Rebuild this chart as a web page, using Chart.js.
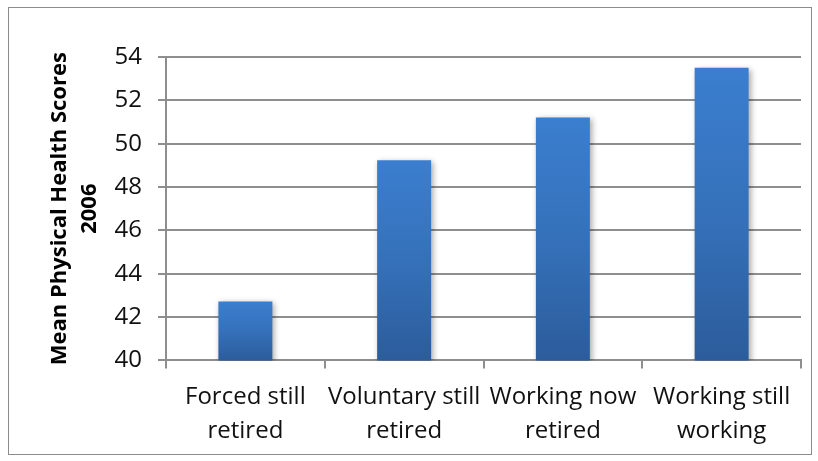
<!DOCTYPE html>
<html>
<head>
<meta charset="utf-8">
<script src="https://cdn.jsdelivr.net/npm/chart.js@4"></script>
<style>
  html, body { margin: 0; padding: 0; background: #fff; }
  #wrap { width: 818px; height: 461px; }
</style>
</head>
<body>
<div id="wrap"><canvas id="healthChart" width="818" height="461"></canvas></div>
<script>
// Mean physical health scores (2006) by retirement group
const groups = [
    ['Forced still', 'retired'],
    ['Voluntary still', 'retired'],
    ['Working now', 'retired'],
    ['Working still', 'working']
];
const meanScores = [42.72, 49.24, 51.21, 53.5];
const yTitle = ['Mean Physical Health Scores', '2006'];

const FONT = '"Open Sans", Lato, sans-serif';

// outer frame around the whole chart
const framePlugin = {
    id: 'frame',
    beforeDraw(chart) {
        const ctx = chart.ctx;
        ctx.save();
        ctx.fillStyle = '#fff';
        ctx.fillRect(0, 0, chart.width, chart.height);
        ctx.strokeStyle = '#8c8c8c';
        ctx.lineWidth = 1;
        ctx.strokeRect(8.5, 7.5, 803, 447);
        ctx.restore();
    }
};

// soft drop shadow under the bars
const shadowPlugin = {
    id: 'barShadow',
    beforeDatasetDraw(chart) {
        const ctx = chart.ctx;
        ctx.save();
        ctx.shadowColor = 'rgba(0, 0, 0, 0.35)';
        ctx.shadowBlur = 6;
        ctx.shadowOffsetX = 2;
        ctx.shadowOffsetY = 2;
    },
    afterDatasetDraw(chart) {
        chart.ctx.restore();
    }
};

// vertical gradient per bar, lighter at the top
function barGradient(context) {
    const chart = context.chart;
    const yScale = chart.scales.y;
    if (!yScale || !chart.chartArea) return '#3a7dcc';
    const v = context.raw;
    const top = yScale.getPixelForValue(v);
    const bottom = yScale.getPixelForValue(yScale.min);
    const g = chart.ctx.createLinearGradient(0, top, 0, bottom);
    g.addColorStop(0, '#3b7ecf');
    g.addColorStop(0.5, '#3571ba');
    g.addColorStop(1, '#2c5c9b');
    return g;
}

new Chart(document.getElementById('healthChart').getContext('2d'), {
    type: 'bar',
    data: {
        labels: groups,
        datasets: [{
            data: meanScores,
            backgroundColor: barGradient,
            borderWidth: 0,
            categoryPercentage: 1,
            barPercentage: 0.34
        }]
    },
    options: {
        responsive: false,
        animation: false,
        layout: { padding: { top: 57, right: 17, bottom: 1, left: 45 } },
        plugins: {
            legend: { display: false },
            tooltip: { enabled: false }
        },
        scales: {
            x: {
                offset: true,
                grid: {
                    offset: true,
                    drawOnChartArea: false,
                    drawTicks: true,
                    tickLength: 8,
                    color: '#8e8e8e',
                    lineWidth: 2
                },
                border: { color: '#8e8e8e', width: 2 },
                ticks: {
                    color: '#111',
                    padding: 11,
                    autoSkip: false,
                    maxRotation: 0,
                    font: { family: FONT, size: 24, lineHeight: 1.45 }
                }
            },
            y: {
                min: 40,
                max: 54,
                afterFit(scale) {
                    // fixed axis width keeps the title close to the tick labels
                    scale.width = 121;
                },
                ticks: {
                    stepSize: 2,
                    color: '#111',
                    padding: 16,
                    font: { family: FONT, size: 24 }
                },
                grid: {
                    color: '#8e8e8e',
                    lineWidth: 2,
                    tickLength: 8
                },
                border: { color: '#8e8e8e', width: 2 },
                title: {
                    display: true,
                    text: yTitle,
                    color: '#000',
                    padding: { top: 0, bottom: 0 },
                    font: { family: FONT, size: 22, weight: 'bold', lineHeight: 1.36 }
                }
            }
        }
    },
    plugins: [framePlugin, shadowPlugin]
});
</script>
</body>
</html>
